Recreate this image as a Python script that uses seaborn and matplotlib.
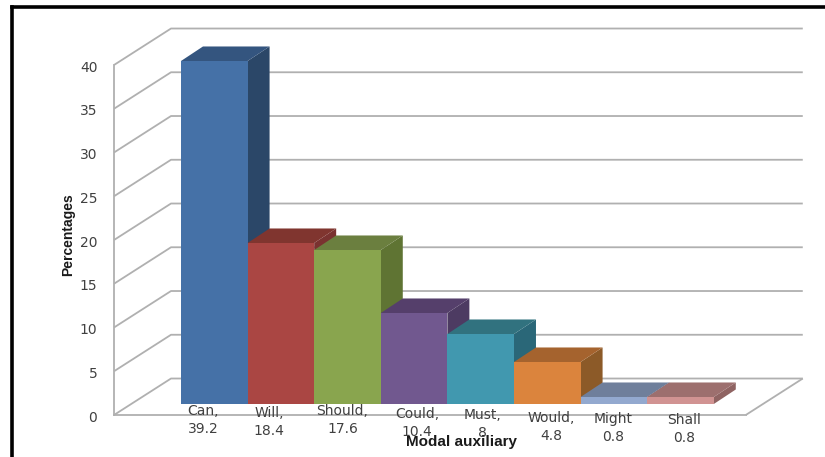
import matplotlib
matplotlib.use("Agg")
import matplotlib.pyplot as plt
import pandas as pd
import seaborn as sns
from matplotlib.lines import Line2D
from matplotlib.patches import Polygon
from matplotlib.transforms import ScaledTranslation

categories = ["Can", "Will", "Should", "Could", "Must", "Would", "Might", "Shall"]
percentages = [39.2, 18.4, 17.6, 10.4, 8, 4.8, 0.8, 0.8]
separators = [",", ",", ",", ",", ",", ",", "", ""]
y_ticks = [0, 5, 10, 15, 20, 25, 30, 35, 40]

front_colors = ["#4571a7", "#aa4643", "#89a54e", "#71588f",
                "#4198af", "#db843d", "#93a9cf", "#d19392"]
top_colors = ["#34557f", "#80352f", "#6b7f3f", "#553f6b",
              "#31727f", "#a5632e", "#6f7f9b", "#9d6f6e"]
side_colors = ["#2b4768", "#7a3230", "#5f7433", "#4d3b62",
               "#2a6778", "#8c5a28", "#64748f", "#8f6362"]

# pixel nudges of the category captions: (x, top of caption below the axis)
caption_nudge = [(-11, 4), (-12, 6), (-5, 4), (3, 7), (2, 8), (4, 11), (-1, 12), (4, 13)]

GRID = "#b0b0b0"
TEXT = "#404040"

# Oblique depth of the floor and of the bars, in category / value units
WALL_DX, WALL_DY = 0.856, 4.17
BAR_DX, BAR_DY = 0.33, 1.66
BAR_LIFT = 1.257
X_LEFT, X_RIGHT = -1.506, 7.98

sns.set_theme(style="white")
plt.rcParams["font.family"] = ["DejaVu Sans"]

fig = plt.figure(figsize=(8.25, 4.57), dpi=100)
ax = fig.add_axes([114 / 825, 1 - 415 / 457, 689 / 825, 387 / 457])

df = pd.DataFrame({"auxiliary": categories, "share": percentages})
sns.barplot(data=df, x="auxiliary", y="share", hue="auxiliary", palette=front_colors,
            saturation=1, width=1, legend=False, bottom=BAR_LIFT, linewidth=0, ax=ax)
fronts = list(ax.patches)

ax.set_xlim(X_LEFT, X_LEFT + 689 / 66.6)
ax.set_ylim(0, 387 / 8.75)

# Extruded tops and sides, later bars overlapping earlier ones
for i, (front, value) in enumerate(zip(fronts, percentages)):
    x0, x1 = i - 0.5, i + 0.5
    y0, y1 = BAR_LIFT, BAR_LIFT + value
    top = [(x0, y1), (x1, y1), (x1 + BAR_DX, y1 + BAR_DY), (x0 + BAR_DX, y1 + BAR_DY)]
    side = [(x1, y0), (x1, y1), (x1 + BAR_DX, y1 + BAR_DY), (x1 + BAR_DX, y0 + BAR_DY)]
    z = 3 + i * 0.1
    ax.add_patch(Polygon(side, closed=True, fc=side_colors[i], ec="none", zorder=z))
    ax.add_patch(Polygon(top, closed=True, fc=top_colors[i], ec="none", zorder=z + 0.01))
    front.set_zorder(z + 0.02)

# Back wall grid and floor outline
line = dict(color=GRID, lw=1.3, zorder=1, solid_capstyle="butt", clip_on=False)
for tick in y_ticks:
    ax.plot([X_LEFT, X_LEFT + WALL_DX, X_RIGHT + WALL_DX],
            [tick, tick + WALL_DY, tick + WALL_DY], **line)
ax.plot([X_RIGHT + WALL_DX, X_RIGHT], [WALL_DY, 0], **line)

for name in ("top", "right"):
    ax.spines[name].set_visible(False)
for name in ("left", "bottom"):
    ax.spines[name].set_color(GRID)
    ax.spines[name].set_linewidth(1.3)
    ax.spines[name].set_zorder(2)
ax.spines["left"].set_bounds(0, 40)
ax.spines["bottom"].set_bounds(X_LEFT, X_RIGHT)

ax.set_yticks(y_ticks)
ax.set_xticks([])
ax.tick_params(axis="y", length=0, pad=12, labelsize=10, labelcolor=TEXT)
for label in ax.get_yticklabels():
    label.set_transform(label.get_transform()
                        + ScaledTranslation(0, -1 / 100, fig.dpi_scale_trans))

for i, (name, sep, value) in enumerate(zip(categories, separators, percentages)):
    nudge_x, nudge_y = caption_nudge[i]
    ax.annotate(f"{name}{sep}\n{value:g}", xy=(i, 0), xycoords="data",
                xytext=(nudge_x, -nudge_y + 15), textcoords="offset pixels",
                ha="center", va="top", fontsize=10, color=TEXT,
                linespacing=1.4, zorder=6, annotation_clip=False)

ax.set_xlabel("Modal auxiliary", fontsize=11, fontweight="bold", color="#1a1a1a",
              family="Liberation Sans")
ax.xaxis.set_label_coords((462 - 114) / 689, -(442 - 415) / 387)
ax.xaxis.label.set_va("center")
ax.xaxis.label.set_zorder(7)

ax.set_ylabel("Percentages", fontsize=10, fontweight="bold", color="#1a1a1a",
              family="Liberation Sans")
ax.yaxis.set_label_coords((68 - 114) / 689, (415 - 235) / 387)
ax.yaxis.label.set_va("center")

# Heavy black frame along the left and top edges
frame = dict(color="black", lw=2.6, transform=fig.transFigure, solid_capstyle="projecting")
fig.add_artist(Line2D([11.5 / 825, 11.5 / 825], [0, 1 - 6.5 / 457], **frame))
fig.add_artist(Line2D([11.5 / 825, 1], [1 - 6.5 / 457, 1 - 6.5 / 457], **frame))

fig.savefig("out.png", dpi=100)
